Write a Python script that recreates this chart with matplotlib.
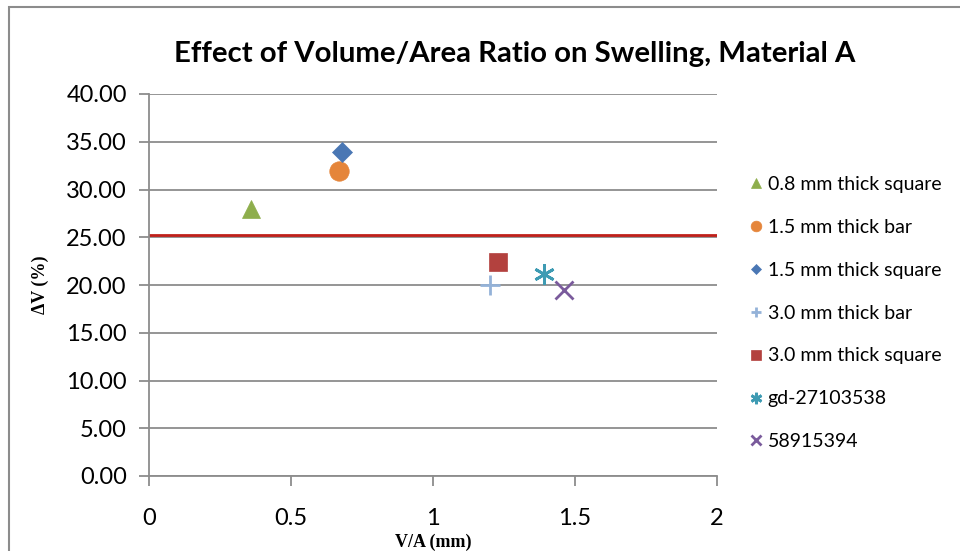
import matplotlib.pyplot as plt
from matplotlib.patches import Rectangle

# data
labels = ["0.8 mm thick square", "1.5 mm thick bar", "1.5 mm thick square",
          "3.0 mm thick bar", "3.0 mm thick square", "gd-27103538", "58915394"]
xVals = [0.36, 0.67, 0.68, 1.20, 1.23, 1.39, 1.46]
yVals = [28.0, 31.9, 33.9, 20.0, 22.4, 21.2, 19.5]
markers = ["^", "o", "D", "+", "s", (6, 2, 0), "x"]
colors = ["#8EAE4C", "#E5853A", "#4A77B4", "#94B2D8", "#B3413E", "#3E9BB3", "#7A5B9C"]
sizes = [13, 14, 10, 14, 13, 15, 13]
refLine = 25.2

plt.rcParams['font.family'] = ['Lato', 'DejaVu Sans']

fig = plt.figure(figsize=(9.6, 5.51), dpi=100)
fig.set_facecolor('white')
ax = fig.add_axes([149 / 960, 1 - 476 / 551, 568 / 960, 382 / 551])

for x, y, m, c, s, lab in zip(xVals, yVals, markers, colors, sizes, labels):
    filled = m not in ("+", "x") and not isinstance(m, tuple)
    ax.plot([x], [y], linestyle="none", marker=m, markersize=s, color=c,
            markeredgewidth=0.5 if filled else 2, label=lab, zorder=3)

ax.axhline(refLine, color="#C0201A", linewidth=2, zorder=2)

ax.set_xlim(0, 2)
ax.set_ylim(0, 40)
ax.set_xticks([0, 0.5, 1, 1.5, 2])
ax.set_xticklabels(["0", "0.5", "1", "1.5", "2"])
ax.set_yticks(range(0, 41, 5))
ax.set_yticklabels([f"{v:.2f}" for v in range(0, 41, 5)])
ax.yaxis.grid(True, color="#8C8C8C", linewidth=1.3)
ax.set_axisbelow(True)
for side in ("top", "right"):
    ax.spines[side].set_visible(False)
ax.spines["left"].set_color("#8C8C8C")
ax.spines["bottom"].set_color("#8C8C8C")
ax.spines["left"].set_linewidth(1.3)
ax.spines["bottom"].set_linewidth(1.3)
ax.tick_params(axis="both", colors="#8C8C8C", labelcolor="black", labelsize=17,
               length=7, width=1.3)
ax.tick_params(axis="y", pad=9)
ax.tick_params(axis="x", pad=16)

# title is centred on the chart area, not on the plot
fig.text(515 / 960, 1 - 54 / 551, "Effect of Volume/Area Ratio on Swelling, Material A",
         fontsize=21.2, fontweight="bold", ha="center", va="center")
fig.text(433 / 960, 1 - 542 / 551, "V/A (mm)", family="Liberation Serif",
         fontweight="bold", fontsize=13, ha="center", va="center")
ax.set_ylabel("ΔV (%)", family="Liberation Serif", fontweight="bold",
              fontsize=13, labelpad=12)

ax.legend(loc="upper left", bbox_to_anchor=(750 / 960, 1 - 176 / 551),
          bbox_transform=fig.transFigure, frameon=False, fontsize=14,
          markerscale=0.55, handlelength=0.6, handletextpad=0.3,
          labelspacing=1.33, borderpad=0, borderaxespad=0)

# outer chart border, cut off at right and bottom
fig.patches.append(Rectangle((8.5 / 960, -0.1), 2.0, 1 - 6.5 / 551 + 0.1,
                             transform=fig.transFigure, fill=False,
                             edgecolor="#8C8C8C", linewidth=1.5))

fig.savefig("out.png", dpi=100)
